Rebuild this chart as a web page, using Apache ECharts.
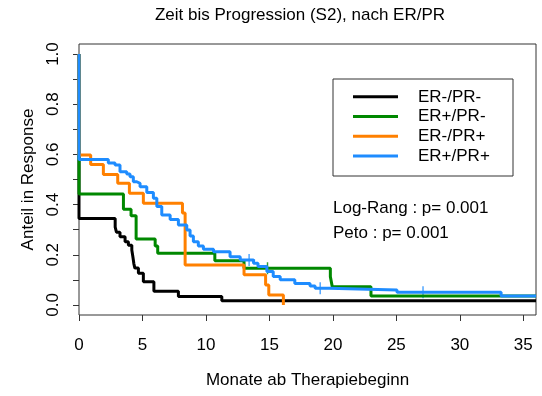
<!DOCTYPE html>
<html>
<head>
<meta charset="utf-8">
<script src="https://cdn.jsdelivr.net/npm/echarts@6/dist/echarts.min.js"></script>
<style>
  html, body { margin: 0; padding: 0; background: #fff; }
  #chart { width: 542px; height: 396px; }
</style>
</head>
<body>
<div id="chart"></div>
<script>
// Kaplan-Meier estimates: time in months, proportion still in response
const groupNames = ['ER-/PR-', 'ER+/PR-', 'ER-/PR+', 'ER+/PR+'];
const groupColors = ['#000000', '#008800', '#ff8000', '#1e8cff'];

const negNegTime = [0, 0, 2.85, 2.95, 3.23, 3.63, 3.89, 4.16, 4.25, 4.32, 4.4, 4.68, 5.07, 5.9, 7.83, 11.25, 36];
const negNegResp = [1, 0.345, 0.31, 0.29, 0.272, 0.252, 0.238, 0.219, 0.19, 0.165, 0.147, 0.126, 0.093, 0.055, 0.034, 0.017, 0.017];

const posNegTime = [0, 0, 3.5, 4.1, 4.5, 6.0, 6.2, 10.7, 13.0, 19.8, 19.95, 23.0, 36];
const posNegResp = [1, 0.442, 0.381, 0.356, 0.263, 0.235, 0.206, 0.176, 0.146, 0.113, 0.073, 0.036, 0.036];

const negPosTime = [0, 0, 0.92, 1.92, 3.05, 3.97, 5.07, 8.15, 8.36, 13.0, 14.7, 14.95, 16.1];
const negPosResp = [1, 0.598, 0.56, 0.52, 0.485, 0.445, 0.405, 0.366, 0.159, 0.12, 0.08, 0.04, 0];

const posPosTime = [0, 0, 2.31, 2.84, 3.23, 3.76, 4.02, 4.28, 4.55, 4.81, 5.34, 5.86, 6.13, 6.52, 7.18, 7.83, 8.49, 8.75, 9.01, 9.4, 9.8, 10.6, 11.9, 12.7, 13.75, 14.1, 14.8, 15.3, 15.85, 17.0, 18.2, 18.6, 19.7, 25.05, 33.25, 36];
const posPosResp = [1, 0.58, 0.566, 0.558, 0.531, 0.522, 0.511, 0.491, 0.485, 0.471, 0.448, 0.425, 0.392, 0.359, 0.341, 0.319, 0.299, 0.275, 0.252, 0.235, 0.222, 0.212, 0.192, 0.179, 0.166, 0.153, 0.133, 0.113, 0.10, 0.086, 0.076, 0.067, 0.06, 0.051, 0.036, 0.036];

// censored observations
const posNegCensTime = [14.85];
const posNegCensResp = [0.146];
const posPosCensTime = [13.4, 19.0, 27.1];
const posPosCensResp = [0.179, 0.067, 0.051];

const xTicks = [0, 5, 10, 15, 20, 25, 30, 35];
const yTicks = [0, 0.1, 0.2, 0.3, 0.4, 0.5, 0.6, 0.7, 0.8, 0.9, 1.0];
const yLabels = [0, 0.2, 0.4, 0.6, 0.8, 1.0];

const titleText = 'Zeit bis Progression (S2), nach ER/PR';
const xTitle = 'Monate ab Therapiebeginn';
const yTitle = 'Anteil in Response';
const testLines = ['Log-Rang : p= 0.001', 'Peto : p= 0.001'];

const FONT = '"Liberation Sans", Arial, Helvetica, sans-serif';
const zip = (a, b) => a.map((v, i) => [v, b[i]]);

const curves = [
  zip(negNegTime, negNegResp),
  zip(posNegTime, posNegResp),
  zip(negPosTime, negPosResp),
  zip(posPosTime, posPosResp)
];

const plusMark = 'path://M4.4,0h1.2v10h-1.2z M0,4.4h10v1.2h-10z';

const series = curves.map((d, i) => ({
  name: groupNames[i],
  type: 'line',
  step: 'end',
  data: d,
  symbol: 'none',
  color: groupColors[i],
  lineStyle: { width: 3, color: groupColors[i] },
  animation: false
}));

series.push({
  type: 'scatter',
  data: zip(posNegCensTime, posNegCensResp),
  symbol: plusMark,
  symbolSize: [12, 12],
  itemStyle: { color: groupColors[1] },
  silent: true,
  animation: false
});
series.push({
  type: 'scatter',
  data: zip(posPosCensTime, posPosCensResp),
  symbol: plusMark,
  symbolSize: [12, 12],
  itemStyle: { color: groupColors[3] },
  silent: true,
  animation: false
});

const chart = echarts.init(document.getElementById('chart'), null, { renderer: 'canvas' });

chart.setOption({
  backgroundColor: '#ffffff',
  animation: false,
  textStyle: { fontFamily: FONT },
  grid: {
    left: 79, top: 44, width: 457, height: 271,
    show: true, borderColor: '#333', borderWidth: 1,
    containLabel: false
  },
  xAxis: {
    type: 'value',
    min: 0, max: 36,
    name: xTitle,
    nameLocation: 'middle',
    nameGap: 57,
    nameTextStyle: { fontSize: 17, color: '#000', fontFamily: FONT },
    axisLine: { show: false, onZero: false },
    splitLine: { show: false },
    axisTick: { show: true, length: 6, inside: false, customValues: xTicks, lineStyle: { color: '#333' } },
    axisLabel: { customValues: xTicks, margin: 22, fontSize: 17, color: '#000', fontFamily: FONT }
  },
  yAxis: {
    type: 'value',
    min: -0.04, max: 1.04,
    name: yTitle,
    nameLocation: 'middle',
    nameGap: 40,
    nameTextStyle: { fontSize: 17, color: '#000', fontFamily: FONT },
    axisLine: { show: false, onZero: false },
    splitLine: { show: false },
    axisTick: { show: true, length: 6, inside: false, customValues: yTicks, lineStyle: { color: '#333' } },
    axisLabel: {
      customValues: yLabels, rotate: 90, margin: 17, fontSize: 17, color: '#000', fontFamily: FONT,
      formatter: v => v.toFixed(1)
    }
  },
  legend: {
    data: groupNames,
    orient: 'vertical',
    left: 353, top: 87,
    padding: 0,
    itemGap: 0,
    itemWidth: 45,
    itemHeight: 12,
    icon: 'path://M0,5h45v3h-45z',
    textStyle: { fontSize: 17, color: '#000', fontFamily: FONT, lineHeight: 19.7, padding: [0, 0, 0, 15] },
    selectedMode: false
  },
  graphic: [
    {
      type: 'rect',
      shape: { x: 333, y: 79, width: 180, height: 97 },
      style: { fill: 'rgba(0,0,0,0)', stroke: '#333', lineWidth: 1 },
      silent: true
    },
    {
      type: 'text', x: 300, y: 15, silent: true,
      style: { text: titleText, fontSize: 17, fontFamily: FONT, fill: '#000', textAlign: 'center', textVerticalAlign: 'middle' }
    },
    {
      type: 'text', x: 333, y: 208, silent: true,
      style: { text: testLines[0], fontSize: 17, fontFamily: FONT, fill: '#000', textAlign: 'left', textVerticalAlign: 'middle' }
    },
    {
      type: 'text', x: 333, y: 233, silent: true,
      style: { text: testLines[1], fontSize: 17, fontFamily: FONT, fill: '#000', textAlign: 'left', textVerticalAlign: 'middle' }
    }
  ],
  series: series
});
</script>
</body>
</html>
